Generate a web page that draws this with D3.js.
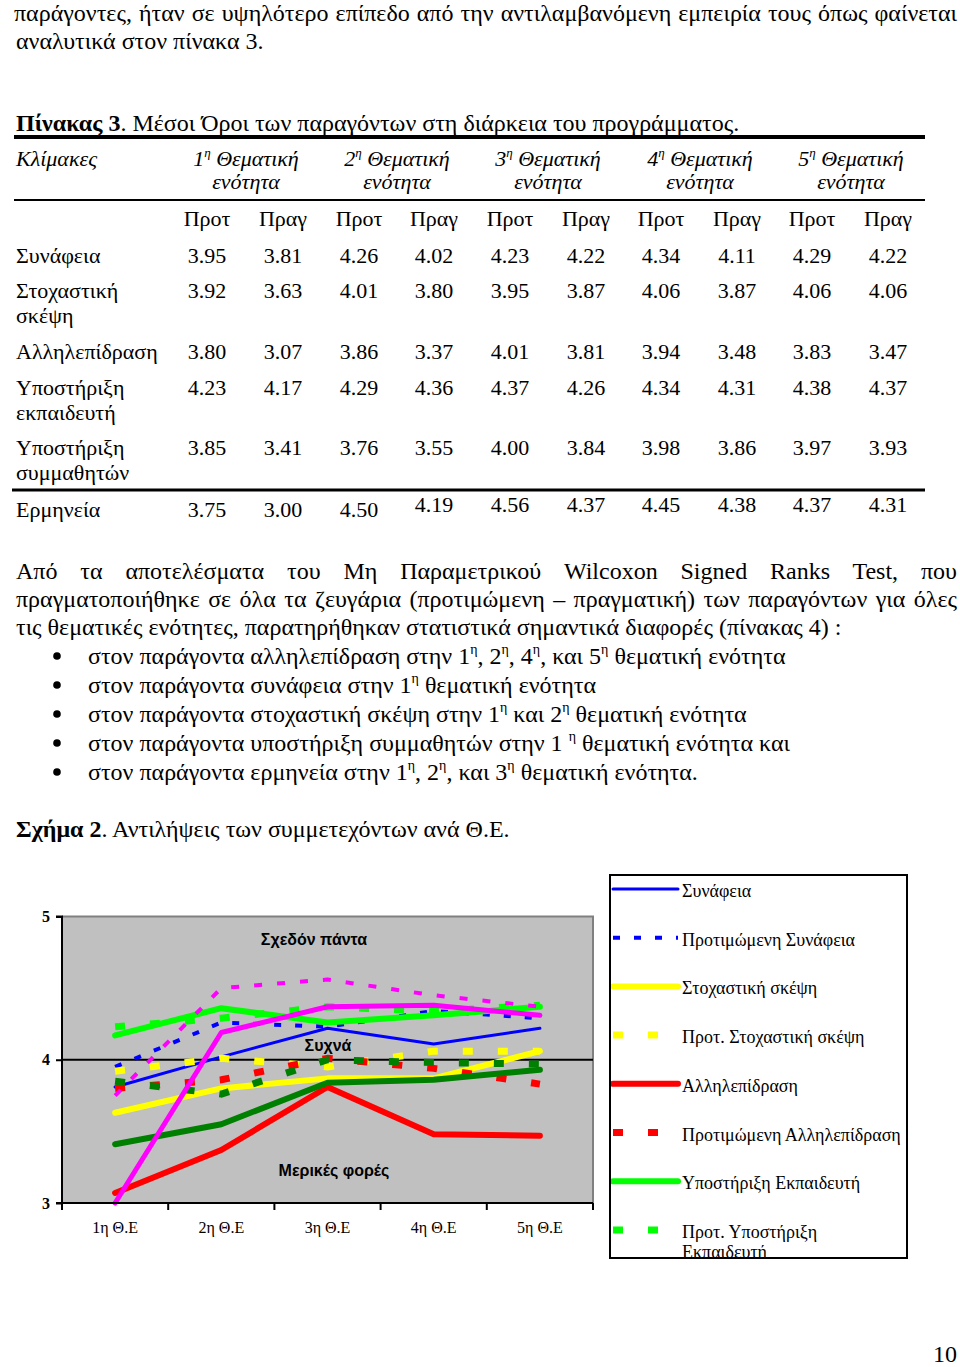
<!DOCTYPE html>
<html><head><meta charset="utf-8">
<script src="https://cdn.jsdelivr.net/npm/d3@7"></script>
<style>html,body{margin:0;padding:0;background:#fff;}svg{display:block;}</style>
</head><body>
<script>
// ---- data ----
const themes = ["1η Θ.Ε","2η Θ.Ε","3η Θ.Ε","4η Θ.Ε","5η Θ.Ε"];
const synafeiaProt = [3.95,4.26,4.23,4.34,4.29];
const synafeiaPrag = [3.81,4.02,4.22,4.11,4.22];
const stoxProt = [3.92,4.01,3.95,4.06,4.06];
const stoxPrag = [3.63,3.80,3.87,3.87,4.06];
const allProt = [3.80,3.86,4.01,3.94,3.83];
const allPrag = [3.07,3.37,3.81,3.48,3.47];
const ekpProt = [4.23,4.29,4.37,4.34,4.38];
const ekpPrag = [4.17,4.36,4.26,4.31,4.37];
const symProt = [3.85,3.76,4.00,3.98,3.97];
const symPrag = [3.41,3.55,3.84,3.86,3.93];
const ermProt = [3.75,4.50,4.56,4.45,4.37];
const ermPrag = [3.00,4.19,4.37,4.38,4.31];
const yTicks = [3,4,5];
const tableRows = [
  {label:["Συνάφεια"], prot:synafeiaProt, prag:synafeiaPrag},
  {label:["Στοχαστική","σκέψη"], prot:stoxProt, prag:stoxPrag},
  {label:["Αλληλεπίδραση"], prot:allProt, prag:allPrag},
  {label:["Υποστήριξη","εκπαιδευτή"], prot:ekpProt, prag:ekpPrag},
  {label:["Υποστήριξη","συμμαθητών"], prot:symProt, prag:symPrag},
  {label:["Ερμηνεία"], prot:ermProt, prag:ermPrag}
];
const seriesNames = ["Συνάφεια","Προτιμώμενη Συνάφεια","Στοχαστική σκέψη","Προτ. Στοχαστική σκέψη",
  "Αλληλεπίδραση","Προτιμώμενη Αλληλεπίδραση","Υποστήριξη Εκπαιδευτή","Προτ. Υποστήριξη Εκπαιδευτή",
  "Υποστήριξη συμμαθητών","Προτ. Υποστήριξη συμμαθητών","Ερμηνεία","Προτ. Ερμηνεία"];
const seriesValues = [synafeiaPrag,synafeiaProt,stoxPrag,stoxProt,allPrag,allProt,ekpPrag,ekpProt,symPrag,symProt,ermPrag,ermProt];
const seriesStyle = [
  {c:"#0000ff",w:3,d:null},{c:"#0000ff",w:4,d:"7,14"},
  {c:"#ffff00",w:6,d:null},{c:"#ffff00",w:7,d:"10,25"},
  {c:"#ff0000",w:6,d:null},{c:"#ff0000",w:7,d:"10,25"},
  {c:"#00ff00",w:6,d:null},{c:"#00ff00",w:7,d:"10,25"},
  {c:"#008000",w:6,d:null},{c:"#008000",w:7,d:"10,25"},
  {c:"#ff00ff",w:5,d:null},{c:"#ff00ff",w:4,d:"8,15"}
];

const W=960,H=1367;
const svg=d3.select("body").append("svg").attr("width",W).attr("height",H);
const SERIF="'Liberation Serif','Times New Roman',serif";
const SANS="'Liberation Sans',Arial,sans-serif";

function txt(x,y,parts,o={}){
  const fs=o.fs||24;
  const t=svg.append("text").attr("x",x).attr("y",y)
    .attr("font-family",o.ff||SERIF).attr("font-size",fs)
    .attr("fill","#000").attr("text-anchor",o.anchor||"start");
  if(o.italic) t.attr("font-style","italic");
  if(o.bold) t.attr("font-weight","bold");
  if(typeof parts==="string"){t.text(parts);}
  else{
    let pend=0;
    parts.forEach(p=>{
      let ts;
      if(typeof p==="string"){ts=t.append("tspan").text(p);if(pend){ts.attr("dy",pend);pend=0;}}
      else if(p.sup){const up=Math.round(fs*0.42);ts=t.append("tspan").attr("font-size",Math.round(fs*0.6)).attr("dy",-up).text(p.sup);pend=up;}
      else if(p.b){ts=t.append("tspan").attr("font-weight","bold").text(p.b);if(pend){ts.attr("dy",pend);pend=0;}}
    });
  }
  if(o.justify){
    const nat=t.node().getComputedTextLength();
    const str=t.text();
    const spaces=(str.match(/ /g)||[]).length;
    if(spaces>0) t.attr("word-spacing",(o.justify-nat)/spaces);
  }
  return t;
}

// ---- page text ----
txt(14,21,"παράγοντες, ήταν σε υψηλότερο επίπεδο από την αντιλαμβανόμενη εμπειρία τους όπως φαίνεται",{justify:943});
txt(16,49,"αναλυτικά στον πίνακα 3.");
txt(16,131,[{b:"Πίνακας 3"},". Μέσοι Όροι των παραγόντων στη διάρκεια του προγράμματος."]);

// ---- table ----
svg.append("line").attr("x1",14).attr("x2",925).attr("y1",137).attr("y2",137).attr("stroke","#000").attr("stroke-width",4);
svg.append("line").attr("x1",14).attr("x2",925).attr("y1",200).attr("y2",200).attr("stroke","#000").attr("stroke-width",2);
svg.append("line").attr("x1",12).attr("x2",925).attr("y1",490).attr("y2",490).attr("stroke","#000").attr("stroke-width",3);
txt(16,166,"Κλίμακες",{italic:true,fs:22});
const colCenters=[207,283,359,434,510,586,661,737,812,888];
const headCenters=[246,397,548,700,851];
headCenters.forEach((cx,i)=>{
  txt(cx,166,[String(i+1),{sup:"η"}," Θεματική"],{italic:true,anchor:"middle",fs:22});
  txt(cx,189,"ενότητα",{italic:true,anchor:"middle",fs:22});
});
colCenters.forEach((cx,i)=>txt(cx,226,i%2===0?"Προτ":"Πραγ",{anchor:"middle",fs:22}));
const rowBase=[263,298,359,395,455,517];
tableRows.forEach((r,ri)=>{
  r.label.forEach((l,li)=>txt(16,rowBase[ri]+li*25,l,{fs:22}));
  for(let k=0;k<5;k++){
    [r.prot[k],r.prag[k]].forEach((v,j)=>{
      const ci=k*2+j;
      let yb=rowBase[ri];
      if(ri===5 && ci>=3) yb=512;
      txt(colCenters[ci],yb,v.toFixed(2),{anchor:"middle",fs:22});
    });
  }
});

// ---- paragraph ----
txt(16,579,"Από τα αποτελέσματα του Μη Παραμετρικού Wilcoxon Signed Ranks Test, που",{justify:941});
txt(16,607,"πραγματοποιήθηκε σε όλα τα ζευγάρια (προτιμώμενη – πραγματική) των παραγόντων για όλες",{justify:941});
txt(16,635,"τις θεματικές ενότητες, παρατηρήθηκαν στατιστικά σημαντικά διαφορές (πίνακας 4) :");
const bullets=[
  ["στον παράγοντα αλληλεπίδραση στην 1",{sup:"η"},", 2",{sup:"η"},", 4",{sup:"η"},", και 5",{sup:"η"}," θεματική ενότητα"],
  ["στον παράγοντα συνάφεια στην 1",{sup:"η"}," θεματική ενότητα"],
  ["στον παράγοντα στοχαστική σκέψη στην 1",{sup:"η"}," και 2",{sup:"η"}," θεματική ενότητα"],
  ["στον παράγοντα υποστήριξη συμμαθητών στην 1 ",{sup:"η"}," θεματική ενότητα και"],
  ["στον παράγοντα ερμηνεία στην 1",{sup:"η"},", 2",{sup:"η"},", και 3",{sup:"η"}," θεματική ενότητα."]
];
bullets.forEach((b,i)=>{
  const yb=664+i*29;
  svg.append("circle").attr("cx",57).attr("cy",yb-8).attr("r",3.8).attr("fill","#000");
  txt(88,yb,b);
});
txt(16,837,[{b:"Σχήμα 2"},". Αντιλήψεις των συμμετεχόντων ανά Θ.Ε."]);
txt(957,1362,"10",{anchor:"end"});

// ---- chart ----
const x=d3.scaleBand().domain(themes).range([62,593]);
const y=d3.scaleLinear().domain([3,5]).range([1203,916.5]);
const g=svg.append("g");
g.append("rect").attr("x",62).attr("y",y(5)).attr("width",593-62).attr("height",y(3)-y(5)).attr("fill","#c0c0c0");
g.append("path").attr("d",`M62,${y(5)}H593V${y(3)}`).attr("fill","none").attr("stroke","#808080").attr("stroke-width",2);
g.append("line").attr("x1",62).attr("x2",593).attr("y1",y(4)).attr("y2",y(4)).attr("stroke","#000").attr("stroke-width",2);

// annotations
[["Σχεδόν πάντα",314,4.84],["Συχνά",328,4.1],["Μερικές φορές",334,3.23]].forEach(a=>{
  g.append("text").attr("x",a[1]).attr("y",y(a[2])+6).attr("text-anchor","middle")
   .attr("font-family",SANS).attr("font-weight","bold").attr("font-size",16).text(a[0]);
});

const line=d3.line().x((d,i)=>x(themes[i])+x.bandwidth()/2).y(d=>y(d));
seriesValues.forEach((vals,i)=>{
  const s=seriesStyle[i];
  g.append("path").datum(vals).attr("d",line).attr("fill","none")
    .attr("stroke",s.c).attr("stroke-width",s.w)
    .attr("stroke-dasharray",s.d).attr("stroke-linecap",s.d?"butt":"round").attr("stroke-linejoin","round");
});

// axes
const ya=g.append("g").attr("transform","translate(62,0)")
  .call(d3.axisLeft(y).tickValues(yTicks).tickSize(6).tickFormat(d3.format("d")));
ya.select(".domain").attr("stroke","#000").attr("stroke-width",2).attr("d",`M-6,${y(5)}H0V${y(3)}H-6`);
ya.selectAll(".tick line").attr("stroke","#000").attr("stroke-width",2);
ya.selectAll(".tick text").attr("font-family",SERIF).attr("font-weight","bold").attr("font-size",16).attr("fill","#000").attr("x",-12);

const xa=g.append("g").attr("transform",`translate(0,${y(3)})`)
  .call(d3.axisBottom(x).tickSize(0).tickPadding(0));
xa.select(".domain").remove();
xa.selectAll(".tick text").attr("font-family",SERIF).attr("font-size",16).attr("fill","#000").attr("dy",0).attr("y",30);
g.append("line").attr("x1",62).attr("x2",593).attr("y1",y(3)).attr("y2",y(3)).attr("stroke","#000").attr("stroke-width",2);
const edges=themes.map(t=>x(t)).concat([x.range()[1]]);
g.selectAll(".edgeTick").data(edges).enter().append("line")
  .attr("x1",d=>d).attr("x2",d=>d).attr("y1",y(3)).attr("y2",y(3)+7).attr("stroke","#000").attr("stroke-width",2);

// legend (box clips its content; only the entries that fit are visible)
const lgTop=875, lgBottom=1258;
const lg=svg.append("g");
svg.append("clipPath").attr("id","lgclip").append("rect").attr("x",611).attr("y",lgTop+1).attr("width",295).attr("height",lgBottom-lgTop-2);
const lgi=lg.append("g").attr("clip-path","url(#lgclip)");
seriesNames.forEach((n,i)=>{
  const s=seriesStyle[i];
  const ly=889+i*48.7;
  if(ly>lgBottom) return;
  lgi.append("line").attr("x1",613).attr("x2",678).attr("y1",ly).attr("y2",ly)
    .attr("stroke",s.c).attr("stroke-width",s.w).attr("stroke-dasharray",s.d)
    .attr("stroke-linecap",s.d?"butt":"round");
  const words=n.split(" ");
  const t=lgi.append("text").attr("x",682).attr("y",ly+8).attr("font-family",SERIF).attr("font-size",18).attr("fill","#000");
  if(n==="Προτ. Υποστήριξη Εκπαιδευτή"||n==="Προτ. Υποστήριξη συμμαθητών"){
    t.append("tspan").attr("x",682).text(words.slice(0,2).join(" "));
    t.append("tspan").attr("x",682).attr("dy",20).text(words.slice(2).join(" "));
  } else t.text(n);
});
lg.append("rect").attr("x",610).attr("y",lgTop).attr("width",297).attr("height",lgBottom-lgTop).attr("fill","none").attr("stroke","#000").attr("stroke-width",2);
</script>
</body></html>
